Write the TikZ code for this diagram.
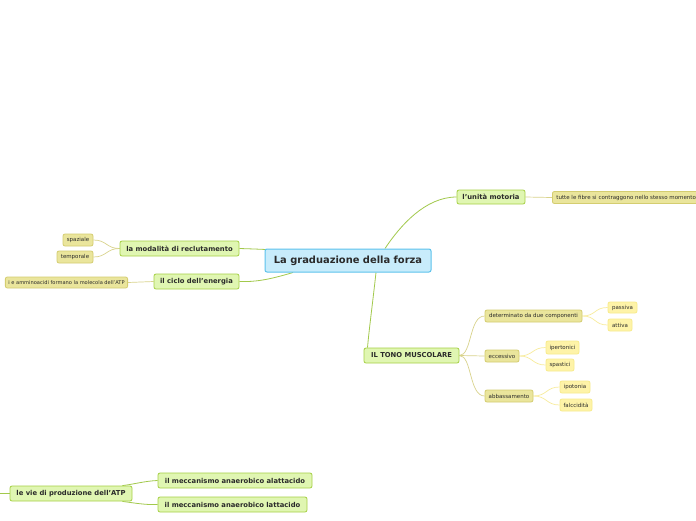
\documentclass[tikz,border=0pt]{standalone}
\usepackage{fontspec}
\setmainfont{DejaVu Sans}
\usetikzlibrary{backgrounds}
\definecolor{cfill}{HTML}{C8ECFB}
\definecolor{cdraw}{HTML}{5CC2EC}
\definecolor{gfill}{HTML}{E0F6B2}
\definecolor{gdraw}{HTML}{A6D046}
\definecolor{kfill}{HTML}{EAE59C}
\definecolor{kdraw}{HTML}{D4CD70}
\definecolor{yfill}{HTML}{FEF3A8}
\definecolor{ydraw}{HTML}{F8EB8C}
\definecolor{gline}{HTML}{A2C94C}
\definecolor{kline}{HTML}{D9D38C}
\definecolor{yline}{HTML}{F8EC9C}
\definecolor{txt}{HTML}{2A2A2A}
\tikzset{
  box/.style={rounded corners=2pt, line width=0.8pt, inner sep=0pt, text=txt, align=center},
  central/.style={box, fill=cfill, draw=cdraw, line width=1pt, font=\fontsize{9.9}{11}\selectfont\bfseries},
  lvlone/.style={box, fill=gfill, draw=gdraw, font=\fontsize{6.8}{8}\selectfont\bfseries},
  lvltwo/.style={box, fill=kfill, draw=kdraw, font=\fontsize{5.5}{6.5}\selectfont},
  lvlthree/.style={box, fill=yfill, draw=ydraw, font=\fontsize{5.5}{6.5}\selectfont},
  gcon/.style={draw=gline, line width=0.8pt},
  kcon/.style={draw=kline, line width=0.7pt},
  ycon/.style={draw=yline, line width=0.7pt},
}
\begin{document}
\begin{tikzpicture}[x=1pt,y=-1pt]
\useasboundingbox (0,0) rectangle (696,520);
% central
\node[central, minimum width=166, minimum height=23] (c) at (348,260.5) {La graduazione della forza};
% level one
\node[lvlone, minimum width=68, minimum height=14] (um) at (491,197) {l'unità motoria};
\node[lvlone, minimum width=119, minimum height=15] (mr) at (179.5,248.5) {la modalità di reclutamento};
\node[lvlone, minimum width=85, minimum height=15] (ce) at (196.5,281.5) {il ciclo dell'energia};
\node[lvlone, minimum width=95, minimum height=15] (tm) at (411.5,355.5) {IL TONO MUSCOLARE};
\node[lvlone, minimum width=122, minimum height=15] (vie) at (71,493.5) {le vie di produzione dell'ATP};
\node[lvlone, minimum width=154, minimum height=15] (ala) at (235,480.5) {il meccanismo anaerobico alattacido};
\node[lvlone, minimum width=149, minimum height=15] (lat) at (232.5,504.5) {il meccanismo anaerobico lattacido};
% level two
\node[lvltwo, minimum height=12, anchor=west, inner xsep=4pt] (tf) at (552,197.5) {tutte le fibre si contraggono nello stesso momento};
\node[lvltwo, minimum width=30, minimum height=12] (sp) at (78,240) {spaziale};
\node[lvltwo, minimum width=36, minimum height=12] (te) at (75,257) {temporale};
\node[lvltwo, minimum height=11, anchor=east, inner xsep=3pt, font=\fontsize{5.1}{6}\selectfont] (atp) at (128,282.5) {i e amminoacidi formano la molecola dell'ATP};
\node[lvltwo, minimum width=97, minimum height=12] (dc) at (533.5,316) {determinato da due componenti};
\node[lvltwo, minimum width=34, minimum height=12] (ec) at (502,356) {eccessivo};
\node[lvltwo, minimum width=48, minimum height=12] (ab) at (509,396) {abbassamento};
% level three
\node[lvlthree, minimum width=29, minimum height=11] (pa) at (622.5,307.5) {passiva};
\node[lvlthree, minimum width=24, minimum height=12] (at) at (620,325) {attiva};
\node[lvlthree, minimum width=33, minimum height=13] (ip) at (562.5,347.5) {ipertonici};
\node[lvlthree, minimum width=28, minimum height=12] (sc) at (560,365) {spastici};
\node[lvlthree, minimum width=30, minimum height=12] (it) at (575,387) {ipotonia};
\node[lvlthree, minimum width=32, minimum height=12] (fa) at (576,405) {falccidità};
\coordinate (leftend) at (0,493.5);
\begin{scope}[on background layer]
\fill[white] (0,0) rectangle (696,520);
% central connectors
\draw[gcon] ([xshift=37pt]c.north) .. controls (400,226) and (425,197) .. (um.west);
\draw[gcon] ([xshift=-82pt,yshift=-1pt]c.north) .. controls (255,249) .. (mr.east);
\draw[gcon] ([xshift=-55pt]c.south) .. controls (268,280) and (255,282) .. (ce.east);
\draw[gcon] ([xshift=28pt]c.south) .. controls (373,300) and (369,330) .. ([xshift=-44pt]tm.north);
% level one to two
\draw[kcon] (um.east) -- (tf.west);
\draw[kcon] (mr.west) .. controls (106,248.5) and (107,240) .. (sp.east);
\draw[kcon] (mr.west) .. controls (106,248.5) and (107,257) .. (te.east);
\draw[kcon] (ce.west) -- (atp.east);
\draw[kcon] (tm.east) .. controls (472,355.5) and (469,316) .. (dc.west);
\draw[kcon] (tm.east) -- (ec.west);
\draw[kcon] (tm.east) .. controls (472,355.5) and (469,396) .. (ab.west);
% level two to three
\draw[ycon] (dc.east) .. controls (596,316) and (594,307.5) .. (pa.west);
\draw[ycon] (dc.east) .. controls (596,316) and (594,325) .. (at.west);
\draw[ycon] (ec.east) .. controls (533,356) and (532,347.5) .. (ip.west);
\draw[ycon] (ec.east) .. controls (533,356) and (532,365) .. (sc.west);
\draw[ycon] (ab.east) .. controls (547,396) and (546,387) .. (it.west);
\draw[ycon] (ab.east) .. controls (547,396) and (546,405) .. (fa.west);
% ATP
\draw[gcon] (vie.west) -- (leftend);
\draw[gcon] ([xshift=-10pt]vie.north east) .. controls (135,484) and (145,481) .. (ala.west);
\draw[gcon] ([xshift=-10pt]vie.south east) .. controls (135,503) and (145,505) .. (lat.west);
\end{scope}
\end{tikzpicture}
\end{document}
